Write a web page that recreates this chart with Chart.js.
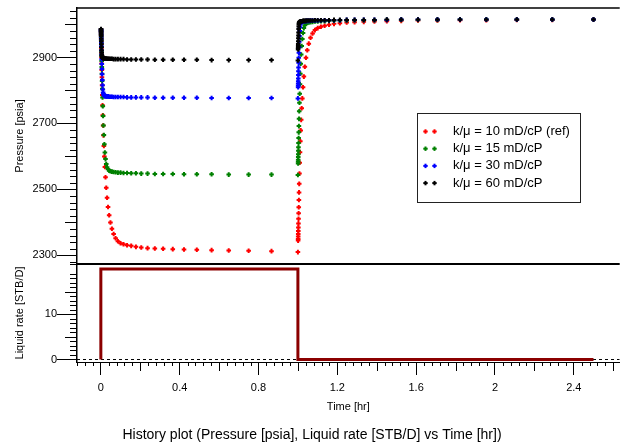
<!DOCTYPE html>
<html><head><meta charset="utf-8">
<script src="https://cdn.jsdelivr.net/npm/chart.js@4.4.1/dist/chart.umd.min.js"></script>
<style>
html,body{margin:0;padding:0;background:#fff;overflow:hidden;}
#wrap{position:absolute;left:0;top:0;width:624px;height:445px;}
</style></head>
<body><div id="wrap"><canvas id="c" width="624" height="445"></canvas></div>
<script>
// ---------- data ----------
const seriesLabels = ['k/\u03bc = 10 mD/cP (ref)', 'k/\u03bc = 15 mD/cP', 'k/\u03bc = 30 mD/cP', 'k/\u03bc = 60 mD/cP'];
const seriesColors = ['#ff0000', '#008000', '#0000ff', '#000000'];

const drawdownTimes = [0.00100,0.00115,0.00133,0.00154,0.00178,0.00205,0.00237,0.00274,0.00316,0.00365,0.00422,0.00487,0.00562,0.00649,0.00750,0.00866,
  0.0100,0.0115,0.0133,0.0154,0.0178,0.0205,0.0237,0.0274,0.0316,0.0365,0.0422,0.0487,0.0562,0.0649,0.0750,0.0866,
  0.100,0.115,0.133,0.154,0.178,0.205,0.237,0.274,0.316,0.365,0.422,0.487,0.562,0.649,0.750,0.866,1.000];

const buildupTimes = [1.00111,1.00129,1.00150,1.00174,1.00203,1.00236,1.00274,1.00318,1.00370,1.00430,1.00499,1.00580,1.00674,1.00783,1.00910,1.01057,
  1.01229,1.01428,1.01659,1.01928,1.02240,1.02603,1.03025,1.03515,1.04085,1.04746,1.05515,1.06409,1.07447,1.08653,1.10055,1.11683,
  1.13576,1.15776,1.18331,1.21301,1.24752,1.28762,1.33422,1.38836,1.45127,1.52438,1.60933,1.70804,1.82274,1.95603,2.11091,2.29088,2.50000];

const redDrawdown = [2985,2980,2975,2968,2960,2951,2941,2929,2915,2900,2882,2862,2840,2816,2786,2755,
  2725,2694,2664,2632,2600,2568,2537,2505,2475,2447,2422,2400,2381,2365,2352,2343,
  2337,2334,2331,2329,2326,2324,2322,2321,2320,2319,2318,2317,2316,2315,2314,2313,2310];
const greenDrawdown = [2985,2980,2975,2968,2961,2952,2943,2932,2919,2905,2889,2871,2851,2829,2805,2779,
  2752,2723,2694,2665,2637,2612,2592,2577,2567,2561,2557,2555,2554,2553,2552,2551,
  2551,2550,2550,2549,2549,2548,2548,2547,2547,2547,2546,2546,2546,2545,2545,2545,2544];
const blueDrawdown = [2985,2981,2976,2970,2963,2955,2945,2934,2922,2909,2895,2880,2865,2849,2832,2816,
  2803,2794,2789,2786,2784,2783,2783,2782,2782,2782,2781,2781,2781,2780,2780,2780,
  2780,2780,2779,2779,2779,2779,2779,2778,2778,2778,2778,2778,2777,2777,2777,2777,2776];
const blackDrawdown = [2986,2982,2977,2971,2965,2957,2949,2940,2931,2922,2914,2908,2904,2901,2900,2899,
  2899,2898,2898,2898,2897,2897,2897,2897,2896,2896,2896,2896,2896,2895,2895,2895,
  2895,2895,2894,2894,2894,2894,2894,2893,2893,2893,2893,2893,2892,2892,2892,2892,2891];

const redBuildup = [2345,2350,2357,2365,2374,2385,2397,2411,2428,2446,2468,2491,2517,2548,2581,2613,2646,2679,2711,
  2746,2776,2810,2842,2872,2899,2922,2942,2960,2973,2983,
  2989,2993,2996,2999,3002,3004,3006,3007,3008,3009,3010,3011,3012,3012,3013,3013,3014,3014,3015];
const greenBuildup = [2579,2584,2590,2598,2607,2617,2628,2641,2656,2673,2692,2714,2737,2763,2790,2819,2851,2881,2909,
  2935,2956,2974,2989,2998,3003,3005,3006,3007,3008,3009,
  3009,3010,3010,3011,3011,3012,3012,3013,3013,3013,3014,3014,3014,3014,3015,3015,3015,3015,3015];
const blueBuildup = [2810,2815,2821,2828,2836,2847,2858,2870,2884,2899,2914,2931,2948,2965,2980,2992,3000,3005,3007,
  3008,3009,3009,3010,3010,3011,3011,3011,3012,3012,3012,
  3012,3013,3013,3013,3013,3013,3014,3014,3014,3014,3014,3015,3015,3015,3015,3015,3015,3015,3015];
const blackBuildup = [2924,2929,2935,2941,2949,2958,2967,2976,2986,2994,3000,3004,3006,3007,3008,3008,3009,3009,3010,
  3010,3010,3011,3011,3011,3011,3012,3012,3012,3012,3013,
  3013,3013,3013,3013,3014,3014,3014,3014,3014,3014,3015,3015,3015,3015,3015,3015,3015,3015,3015];

const rateTimes = [0, 0, 1, 1, 2.5];
const rateValues = [0, 20, 20, 0, 0];

const timeAxisRange = [-0.121, 2.633];
const pressureAxisRange = [2274, 3050];
const rateAxisRange = [-0.55, 21.1];

const timeTicks = [0, 0.4, 0.8, 1.2, 1.6, 2, 2.4];
const timeTickLabels = ['0', '0.4', '0.8', '1.2', '1.6', '2', '2.4'];
const pressureTicks = [2300, 2500, 2700, 2900];
const pressureTickLabels = ['2300', '2500', '2700', '2900'];
const rateTicks = [0, 10];
const rateTickLabels = ['0', '10'];

const zeroLineTimes = [timeAxisRange[0], timeAxisRange[1]];
const zeroLineValues = [0, 0];

// ---------- chart ----------
const FONT = "'Liberation Sans', Arial, Helvetica, sans-serif";
Chart.defaults.font.family = FONT;
Chart.defaults.color = '#000';

function pts(ts, vs) { return ts.map((t, i) => ({x: t, y: vs[i]})); }

const pressureSeries = [
  {dd: redDrawdown, bu: redBuildup},
  {dd: greenDrawdown, bu: greenBuildup},
  {dd: blueDrawdown, bu: blueBuildup},
  {dd: blackDrawdown, bu: blackBuildup}
];

const datasets = pressureSeries.map((s, i) => ({
  label: seriesLabels[i],
  data: pts(drawdownTimes, s.dd).concat(pts(buildupTimes, s.bu)),
  yAxisID: 'yP',
  showLine: false,
  borderColor: seriesColors[i],
  backgroundColor: seriesColors[i],
  pointStyle: 'cross',
  pointRadius: 2.3,
  pointHoverRadius: 2.3,
  pointBorderWidth: 2,
  order: 10 - i
}));
datasets.push({
  label: 'zero', data: pts(zeroLineTimes, zeroLineValues), yAxisID: 'yR', showLine: true,
  borderColor: '#000', borderWidth: 1, borderDash: [3, 3], pointRadius: 0, order: 30
});
datasets.push({
  label: 'Liquid rate', data: pts(rateTimes, rateValues), yAxisID: 'yR', showLine: true,
  borderColor: '#8b0000', borderWidth: 3, pointRadius: 0, borderJoinStyle: 'miter', order: 20
});

function yAxis(range, ticks, labels, title, weight, stackWeight) {
  return {
    type: 'linear', position: 'left', stack: 'panels', stackWeight: stackWeight, weight: weight,
    min: range[0], max: range[1],
    afterBuildTicks: s => { s.ticks = ticks.map(v => ({value: v})); },
    ticks: {callback: (v, i) => labels[i], font: {size: 11}, color: '#000', padding: 0, autoSkip: false},
    grid: {drawOnChartArea: false, drawTicks: true, tickLength: 20, color: '#000', lineWidth: 1},
    border: {display: true, color: '#000', width: 1.5},
    title: {display: true, text: title, font: {size: 11}, color: '#000', padding: {top: 13, bottom: 0}},
    afterFit: s => { s.width = 77; }
  };
}

const framePlugin = {
  id: 'frame',
  afterDraw(chart) {
    const ctx = chart.ctx, a = chart.chartArea;
    const sx = chart.scales.x, yP = chart.scales.yP, yR = chart.scales.yR;
    const ln = (x1, y1, x2, y2) => { ctx.beginPath(); ctx.moveTo(x1, y1); ctx.lineTo(x2, y2); ctx.stroke(); };
    ctx.save();
    ctx.strokeStyle = '#000';
    ctx.lineWidth = 1.5;
    ln(a.left, yP.top, a.right, yP.top);
    ctx.lineWidth = 2;
    ln(a.left, yP.bottom, a.right, yP.bottom);
    ctx.lineWidth = 1;
    // x minor / mid ticks
    for (let k = -3; k <= 65; k++) {
      if (k % 10 === 0) continue;
      const len = (k % 5 === 0) ? 9 : 4;
      const px = Math.round(sx.getPixelForValue(k * 0.04)) + 0.5;
      if (px < a.left || px > a.right) continue;
      ln(px, sx.top, px, sx.top + len);
    }
    // pressure minor / mid ticks
    for (let v = 2280; v <= 3040; v += 20) {
      if ((v - 2300) % 200 === 0) continue;
      const len = (v % 100 === 0) ? 12 : 7;
      const py = Math.round(yP.getPixelForValue(v)) + 0.5;
      if (py < yP.top || py > yP.bottom) continue;
      ln(a.left - len, py, a.left, py);
    }
    // rate minor / mid ticks
    for (let v = 1; v <= 21; v++) {
      if (v % 10 === 0) continue;
      const len = (v % 5 === 0) ? 12 : 7;
      const py = Math.round(yR.getPixelForValue(v)) + 0.5;
      if (py < yR.top || py > yR.bottom) continue;
      ln(a.left - len, py, a.left, py);
    }
    // legend
    const lx = 417, ly = 113, lw = 163, lh = 89;
    ctx.fillStyle = '#fff';
    ctx.fillRect(lx, ly, lw, lh);
    ctx.strokeStyle = '#222';
    ctx.lineWidth = 1;
    ctx.strokeRect(lx + 0.5, ly + 0.5, lw, lh);
    ctx.font = '13px ' + FONT;
    ctx.textBaseline = 'middle';
    ctx.textAlign = 'left';
    const items = chart.data.datasets.slice(0, 4);
    items.forEach((ds, i) => {
      const ry = ly + 18.5 + i * 17.2;
      ctx.strokeStyle = ds.borderColor;
      ctx.lineWidth = 2;
      [425.5, 434.5].forEach(mx => {
        ln(mx - 2.2, ry, mx + 2.2, ry);
        ln(mx, ry - 2.2, mx, ry + 2.2);
      });
      ctx.fillStyle = '#000';
      ctx.fillText(ds.label, 453, ry);
    });
    ctx.restore();
  }
};

new Chart(document.getElementById('c'), {
  type: 'scatter',
  data: {datasets: datasets},
  options: {
    responsive: false,
    animation: false,
    devicePixelRatio: 1,
    layout: {padding: {top: 8, left: 0, right: 0, bottom: 0}},
    plugins: {
      legend: {display: false},
      tooltip: {enabled: false},
      title: {
        display: true, position: 'bottom',
        text: 'History plot (Pressure [psia], Liquid rate [STB/D] vs Time [hr])',
        font: {size: 14, weight: 'normal'}, color: '#000', padding: {top: 4, bottom: 1.6}
      }
    },
    scales: {
      x: {
        type: 'linear', position: 'bottom',
        min: timeAxisRange[0], max: timeAxisRange[1],
        afterBuildTicks: s => { s.ticks = timeTicks.map(v => ({value: v})); },
        ticks: {callback: (v, i) => timeTickLabels[i], font: {size: 11}, color: '#000', padding: 6, autoSkip: false, maxRotation: 0, minRotation: 0},
        grid: {drawOnChartArea: false, drawTicks: true, tickLength: 13, color: '#000', lineWidth: 1},
        border: {display: true, color: '#000', width: 1},
        title: {display: true, text: 'Time [hr]', font: {size: 11}, color: '#000', padding: {top: 0, bottom: 9}},
        afterFit: s => { s.height = 60.6; }
      },
      yR: yAxis(rateAxisRange, rateTicks, rateTickLabels, 'Liquid rate [STB/D]', 1, 98),
      yP: yAxis(pressureAxisRange, pressureTicks, pressureTickLabels, 'Pressure [psia]', 2, 256)
    }
  },
  plugins: [framePlugin]
});
</script>
</body></html>
